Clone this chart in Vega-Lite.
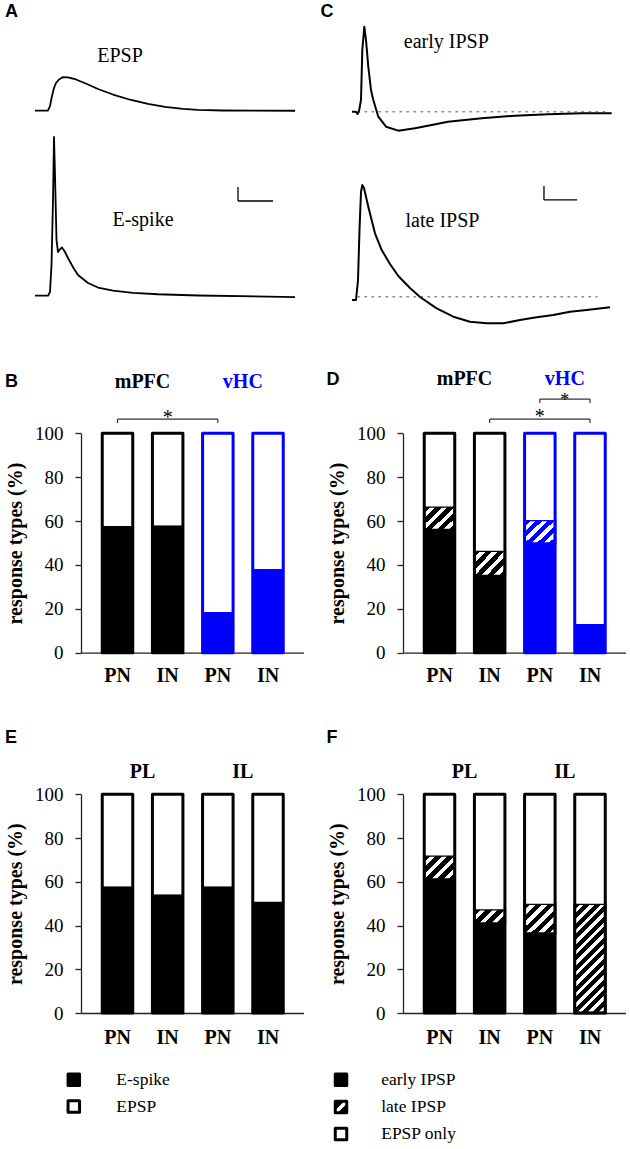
{
"$schema": "https://vega.github.io/schema/vega-lite/v6.json",
"background": "white",
"padding": {"left": 4, "top": 0, "right": 0, "bottom": 0},
"config": {"view": {"stroke": null}, "axis": {"grid": false}, "text": {"font": "Liberation Serif, Times New Roman, serif"}},
"columns": 2,
"spacing": {"row": 0, "column": 99},
"bounds": "flush",
"datasets": {
"traces": [
{"trace":"EPSP","t":0,"v":0},{"trace":"EPSP","t":7.43,"v":0.03},{"trace":"EPSP","t":8.57,"v":0.67},{"trace":"EPSP","t":9.71,"v":2.1},{"trace":"EPSP","t":10.86,"v":3.24},{"trace":"EPSP","t":12,"v":3.96},{"trace":"EPSP","t":13.71,"v":4.46},{"trace":"EPSP","t":16,"v":4.81},{"trace":"EPSP","t":18.86,"v":4.77},{"trace":"EPSP","t":23.43,"v":4.46},{"trace":"EPSP","t":30.29,"v":3.74},{"trace":"EPSP","t":36,"v":3.1},{"trace":"EPSP","t":44.57,"v":2.31},{"trace":"EPSP","t":54.86,"v":1.53},{"trace":"EPSP","t":64.57,"v":0.96},{"trace":"EPSP","t":74.29,"v":0.56},{"trace":"EPSP","t":84.57,"v":0.27},{"trace":"EPSP","t":93.14,"v":0.11},{"trace":"EPSP","t":107.43,"v":0.03},{"trace":"EPSP","t":148.57,"v":-0.01},
{"trace":"E-spike","t":0,"v":0},{"trace":"E-spike","t":7.43,"v":0},{"trace":"E-spike","t":8.57,"v":0.53},{"trace":"E-spike","t":9.43,"v":4.39},{"trace":"E-spike","t":10.29,"v":13.67},{"trace":"E-spike","t":10.86,"v":22.67},{"trace":"E-spike","t":11.43,"v":17.24},{"trace":"E-spike","t":12.29,"v":7.96},{"trace":"E-spike","t":13.14,"v":6.24},{"trace":"E-spike","t":14,"v":6.53},{"trace":"E-spike","t":15.43,"v":6.89},{"trace":"E-spike","t":17.14,"v":6.24},{"trace":"E-spike","t":19.14,"v":5.24},{"trace":"E-spike","t":22,"v":3.96},{"trace":"E-spike","t":24.57,"v":2.96},{"trace":"E-spike","t":30.29,"v":1.81},{"trace":"E-spike","t":36,"v":1.17},{"trace":"E-spike","t":44.57,"v":0.74},{"trace":"E-spike","t":56,"v":0.41},{"trace":"E-spike","t":70.29,"v":0.21},{"trace":"E-spike","t":93.14,"v":0.03},{"trace":"E-spike","t":148.57,"v":-0.19},
{"trace":"early IPSP","t":0,"v":0},{"trace":"early IPSP","t":2.29,"v":0},{"trace":"early IPSP","t":3.14,"v":-0.33},{"trace":"early IPSP","t":4,"v":0.1},{"trace":"early IPSP","t":5.14,"v":1.67},{"trace":"early IPSP","t":5.89,"v":8.81},{"trace":"early IPSP","t":7.03,"v":12.14},{"trace":"early IPSP","t":8,"v":10.24},{"trace":"early IPSP","t":9.31,"v":6.43},{"trace":"early IPSP","t":10.86,"v":3.1},{"trace":"early IPSP","t":12.17,"v":1.67},{"trace":"early IPSP","t":15.03,"v":-0.71},{"trace":"early IPSP","t":19.43,"v":-2.14},{"trace":"early IPSP","t":26.46,"v":-2.71},{"trace":"early IPSP","t":36,"v":-2.37},{"trace":"early IPSP","t":45.54,"v":-1.9},{"trace":"early IPSP","t":54.86,"v":-1.43},{"trace":"early IPSP","t":74.11,"v":-0.94},{"trace":"early IPSP","t":93.14,"v":-0.57},{"trace":"early IPSP","t":112.17,"v":-0.37},{"trace":"early IPSP","t":131.26,"v":-0.23},{"trace":"early IPSP","t":148.4,"v":-0.23},
{"trace":"late IPSP","t":0,"v":0},{"trace":"late IPSP","t":2.29,"v":0},{"trace":"late IPSP","t":3.43,"v":2.86},{"trace":"late IPSP","t":4.29,"v":10},{"trace":"late IPSP","t":5.14,"v":15.43},{"trace":"late IPSP","t":5.89,"v":16.43},{"trace":"late IPSP","t":6.86,"v":16.0},{"trace":"late IPSP","t":9.31,"v":13.33},{"trace":"late IPSP","t":13.14,"v":9.53},{"trace":"late IPSP","t":16.97,"v":7.14},{"trace":"late IPSP","t":21.71,"v":5.14},{"trace":"late IPSP","t":26.46,"v":3.43},{"trace":"late IPSP","t":33.14,"v":1.71},{"trace":"late IPSP","t":38.86,"v":0.43},{"trace":"late IPSP","t":48.4,"v":-1.19},{"trace":"late IPSP","t":57.89,"v":-2.39},{"trace":"late IPSP","t":67.43,"v":-3.1},{"trace":"late IPSP","t":76.97,"v":-3.33},{"trace":"late IPSP","t":86.46,"v":-3.33},{"trace":"late IPSP","t":96,"v":-2.86},{"trace":"late IPSP","t":105.54,"v":-2.47},{"trace":"late IPSP","t":115.03,"v":-2.14},{"trace":"late IPSP","t":124.57,"v":-1.67},{"trace":"late IPSP","t":134.11,"v":-1.43},{"trace":"late IPSP","t":147.43,"v":-1.04}
],
"B": [
{"cell":"mPFC PN","region":"mPFC","type":"E-spike","pct":57.7},{"cell":"mPFC PN","region":"mPFC","type":"EPSP","pct":42.3},
{"cell":"mPFC IN","region":"mPFC","type":"E-spike","pct":58.1},{"cell":"mPFC IN","region":"mPFC","type":"EPSP","pct":41.9},
{"cell":"vHC PN","region":"vHC","type":"E-spike","pct":18.5},{"cell":"vHC PN","region":"vHC","type":"EPSP","pct":81.5},
{"cell":"vHC IN","region":"vHC","type":"E-spike","pct":38.2},{"cell":"vHC IN","region":"vHC","type":"EPSP","pct":61.8}
],
"D": [
{"cell":"mPFC PN","region":"mPFC","type":"early IPSP","pct":55.9},{"cell":"mPFC PN","region":"mPFC","type":"late IPSP","pct":10.7},{"cell":"mPFC PN","region":"mPFC","type":"EPSP only","pct":33.4},
{"cell":"mPFC IN","region":"mPFC","type":"early IPSP","pct":35.0},{"cell":"mPFC IN","region":"mPFC","type":"late IPSP","pct":11.5},{"cell":"mPFC IN","region":"mPFC","type":"EPSP only","pct":53.5},
{"cell":"vHC PN","region":"vHC","type":"early IPSP","pct":49.8},{"cell":"vHC PN","region":"vHC","type":"late IPSP","pct":10.7},{"cell":"vHC PN","region":"vHC","type":"EPSP only","pct":39.5},
{"cell":"vHC IN","region":"vHC","type":"early IPSP","pct":13.1},{"cell":"vHC IN","region":"vHC","type":"late IPSP","pct":0},{"cell":"vHC IN","region":"vHC","type":"EPSP only","pct":86.9}
],
"E": [
{"cell":"PL PN","region":"PL","type":"E-spike","pct":57.9},{"cell":"PL PN","region":"PL","type":"EPSP","pct":42.1},
{"cell":"PL IN","region":"PL","type":"E-spike","pct":54.3},{"cell":"PL IN","region":"PL","type":"EPSP","pct":45.7},
{"cell":"IL PN","region":"IL","type":"E-spike","pct":57.9},{"cell":"IL PN","region":"IL","type":"EPSP","pct":42.1},
{"cell":"IL IN","region":"IL","type":"E-spike","pct":51.0},{"cell":"IL IN","region":"IL","type":"EPSP","pct":49.0}
],
"F": [
{"cell":"PL PN","region":"PL","type":"early IPSP","pct":61.0},{"cell":"PL PN","region":"PL","type":"late IPSP","pct":11.0},{"cell":"PL PN","region":"PL","type":"EPSP only","pct":28.0},
{"cell":"PL IN","region":"PL","type":"early IPSP","pct":40.9},{"cell":"PL IN","region":"PL","type":"late IPSP","pct":6.5},{"cell":"PL IN","region":"PL","type":"EPSP only","pct":52.6},
{"cell":"IL PN","region":"IL","type":"early IPSP","pct":36.3},{"cell":"IL PN","region":"IL","type":"late IPSP","pct":13.7},{"cell":"IL PN","region":"IL","type":"EPSP only","pct":50.0},
{"cell":"IL IN","region":"IL","type":"early IPSP","pct":0},{"cell":"IL IN","region":"IL","type":"late IPSP","pct":50.0},{"cell":"IL IN","region":"IL","type":"EPSP only","pct":50.0}
],
"groups": [
{"panel":"B","region":"mPFC"},{"panel":"B","region":"vHC"},
{"panel":"D","region":"mPFC"},{"panel":"D","region":"vHC"},
{"panel":"E","region":"PL"},{"panel":"E","region":"IL"},
{"panel":"F","region":"PL"},{"panel":"F","region":"IL"}
],
"legL": [{"item":"E-spike"},{"item":"EPSP"}],
"legR": [{"item":"early IPSP"},{"item":"late IPSP"},{"item":"EPSP only"}]
},
"concat": [
{
"width": 222.5, "height": 130,
"layer": [
{"data": {"name": "traces"}, "transform": [{"filter": "datum.trace==='EPSP'"}],
 "mark": {"type": "line", "color": "black", "strokeWidth": 1.8, "strokeJoin": "round"},
 "encoding": {"x": {"field": "t", "type": "quantitative", "scale": {"domain": [0, 150], "range": [-46, 216.5], "nice": false, "zero": false}, "axis": null},
  "y": {"field": "v", "type": "quantitative", "scale": {"domain": [0, 10], "range": [110.7, 40.7], "nice": false, "zero": false}, "axis": null}}},
{"data": {"values": [{}]}, "mark": {"type": "text", "text": "EPSP", "font": "Liberation Serif, Times New Roman, serif", "fontSize": 20, "baseline": "middle", "align": "center"},
 "encoding": {"x": {"datum": 48.6}, "y": {"datum": 7.87}}},
{"data": {"values": [{}]}, "mark": {"type": "text", "text": "A", "font": "Liberation Sans, Arial, sans-serif", "fontSize": 18, "fontWeight": "bold", "align": "left", "baseline": "middle"},
 "encoding": {"x": {"datum": -17.14}, "y": {"datum": 14.06}}}
]
},
{
"width": 222.5, "height": 130,
"layer": [
{"data": {"values": [{}]}, "mark": {"type": "rule", "color": "#888", "strokeWidth": 1.5, "strokeDash": [1.5, 5.5], "strokeCap": "round"},
 "encoding": {"x": {"datum": 3.43, "scale": {"domain": [0, 150], "range": [-51, 211.5], "nice": false, "zero": false}, "axis": null}, "x2": {"datum": 146.3},
  "y": {"datum": 0, "scale": {"domain": [0, 10], "range": [111.7, 41.7], "nice": false, "zero": false}, "axis": null}}},
{"data": {"name": "traces"}, "transform": [{"filter": "datum.trace==='early IPSP'"}],
 "mark": {"type": "line", "color": "black", "strokeWidth": 2, "strokeJoin": "round"},
 "encoding": {"x": {"field": "t", "type": "quantitative"}, "y": {"field": "v", "type": "quantitative"}}},
{"data": {"values": [{}]}, "mark": {"type": "text", "text": "early IPSP", "font": "Liberation Serif, Times New Roman, serif", "fontSize": 20, "baseline": "middle", "align": "center"},
 "encoding": {"x": {"datum": 53.9}, "y": {"datum": 9.91}}},
{"data": {"values": [{}]}, "mark": {"type": "text", "text": "C", "font": "Liberation Sans, Arial, sans-serif", "fontSize": 18, "fontWeight": "bold", "align": "left", "baseline": "middle"},
 "encoding": {"x": {"datum": -18.0}, "y": {"datum": 14.21}}}
]
},
{
"width": 222.5, "height": 210,
"layer": [
{"data": {"name": "traces"}, "transform": [{"filter": "datum.trace==='E-spike'"}],
 "mark": {"type": "line", "color": "black", "strokeWidth": 1.8, "strokeJoin": "round"},
 "encoding": {"x": {"field": "t", "type": "quantitative", "scale": {"domain": [0, 150], "range": [-46, 216.5], "nice": false, "zero": false}, "axis": null},
  "y": {"field": "v", "type": "quantitative", "scale": {"domain": [0, 10], "range": [165.7, 95.7], "nice": false, "zero": false}, "axis": null}}},
{"data": {"values": [{}]}, "mark": {"type": "text", "text": "E-spike", "font": "Liberation Serif, Times New Roman, serif", "fontSize": 20, "baseline": "middle", "align": "center"},
 "encoding": {"x": {"datum": 61.7}, "y": {"datum": 10.87}}},
{"data": {"values": [{}]}, "mark": {"type": "rule", "color": "black", "strokeWidth": 1.3},
 "encoding": {"x": {"datum": 116}, "y": {"datum": 13.53}, "y2": {"datum": 15.53}}},
{"data": {"values": [{}]}, "mark": {"type": "rule", "color": "black", "strokeWidth": 1.3},
 "encoding": {"x": {"datum": 116}, "x2": {"datum": 136}, "y": {"datum": 13.53}}}
]
},
{
"width": 222.5, "height": 210,
"layer": [
{"data": {"values": [{}]}, "mark": {"type": "rule", "color": "#888", "strokeWidth": 1.5, "strokeDash": [1.5, 5.5], "strokeCap": "round"},
 "encoding": {"x": {"datum": 3.43, "scale": {"domain": [0, 150], "range": [-51, 211.5], "nice": false, "zero": false}, "axis": null}, "x2": {"datum": 140},
  "y": {"datum": 0.47, "scale": {"domain": [0, 10], "range": [170, 100], "nice": false, "zero": false}, "axis": null}}},
{"data": {"name": "traces"}, "transform": [{"filter": "datum.trace==='late IPSP'"}],
 "mark": {"type": "line", "color": "black", "strokeWidth": 2, "strokeJoin": "round"},
 "encoding": {"x": {"field": "t", "type": "quantitative"}, "y": {"field": "v", "type": "quantitative"}}},
{"data": {"values": [{}]}, "mark": {"type": "text", "text": "late IPSP", "font": "Liberation Serif, Times New Roman, serif", "fontSize": 20, "baseline": "middle", "align": "center"},
 "encoding": {"x": {"datum": 51.7}, "y": {"datum": 11.34}}},
{"data": {"values": [{}]}, "mark": {"type": "rule", "color": "black", "strokeWidth": 1.3},
 "encoding": {"x": {"datum": 109.7}, "y": {"datum": 14.29}, "y2": {"datum": 16.29}}},
{"data": {"values": [{}]}, "mark": {"type": "rule", "color": "black", "strokeWidth": 1.3},
 "encoding": {"x": {"datum": 109.7}, "x2": {"datum": 128.7}, "y": {"datum": 14.29}}}
]
},
{
"width": 222.5, "height": 312.7,
"resolve": {"scale": {"x": "independent"}},
"layer": [
{"layer": [
 {"data": {"name": "B"},
  "transform": [{"calculate": "indexof(['E-spike','EPSP'], datum.type)", "as": "ord"}],
  "mark": {"type": "bar"},
  "encoding": {
   "x": {"field": "cell", "type": "nominal", "scale": {"type": "band", "domain": ["mPFC PN","mPFC IN","vHC PN","vHC IN"], "paddingInner": 0.392, "paddingOuter": 0.4135, "align": 0.512},
     "axis": {"title": null, "labelExpr": "split(datum.label, ' ')[1]", "labelAngle": 0, "ticks": false, "tickSize": 0, "labelPadding": 13, "labelFont": "Liberation Serif, Times New Roman, serif", "labelFontSize": 20, "labelFontWeight": "bold", "labelColor": "black", "domainColor": "#222", "domainWidth": 1.3}},
   "y": {"field": "pct", "type": "quantitative", "stack": "zero", "scale": {"domain": [0, 100], "range": [312.7, 93.3], "nice": false},
     "axis": {"title": "response types (%)", "values": [0,20,40,60,80,100], "tickSize": 6, "tickWidth": 1.3, "tickColor": "#222", "domainColor": "#222", "domainWidth": 1.3, "labelPadding": 12, "labelFont": "Liberation Serif, Times New Roman, serif", "labelFontSize": 19, "labelColor": "black", "titleFont": "Liberation Serif, Times New Roman, serif", "titleFontSize": 20, "titleFontWeight": "bold", "titleColor": "black", "titlePadding": 9}},
   "order": {"field": "ord", "type": "quantitative"},
   "detail": {"field": "type"},
   "fill": {"condition": [{"test": "datum.type==='EPSP'", "value": "white"}, {"test": "datum.region==='vHC'", "value": "#0000ff"}], "value": "black"}
  }},
 {"data": {"name": "B"},
  "transform": [{"aggregate": [{"op": "sum", "field": "pct", "as": "total"}], "groupby": ["cell", "region"]}],
  "mark": {"type": "bar", "filled": false, "strokeWidth": 3, "strokeJoin": "round"},
  "encoding": {"x": {"field": "cell", "type": "nominal"}, "y": {"field": "total", "type": "quantitative", "stack": null},
   "stroke": {"condition": {"test": "datum.region==='vHC'", "value": "#0000ff"}, "value": "black"}}},
 {"data": {"values": [{}]}, "mark": {"type": "rule", "color": "#333", "strokeWidth": 1.2},
  "encoding": {"x": {"datum": "mPFC PN"}, "x2": {"datum": "vHC PN"}, "y": {"datum": 106.5}}},
 {"data": {"values": [{"cell": "mPFC PN"}, {"cell": "vHC PN"}]}, "mark": {"type": "rule", "color": "#333", "strokeWidth": 1.2},
  "encoding": {"x": {"field": "cell", "type": "nominal"}, "y": {"datum": 104.7}, "y2": {"datum": 106.5}}},
 {"data": {"values": [{}]}, "mark": {"type": "text", "text": "*", "font": "Liberation Serif, Times New Roman, serif", "fontSize": 20, "baseline": "alphabetic", "align": "center"},
  "encoding": {"x": {"datum": "mPFC IN"}, "y": {"datum": 104.3}}}
]},
{"layer": [
 {"data": {"name": "groups"}, "transform": [{"filter": "datum.panel==='B'"}],
  "mark": {"type": "text", "font": "Liberation Serif, Times New Roman, serif", "fontSize": 20, "fontWeight": "bold", "baseline": "middle", "align": "center"},
  "encoding": {"x": {"field": "region", "type": "nominal", "scale": {"type": "band", "domain": ["mPFC","vHC"], "paddingInner": 0, "paddingOuter": 0.1088, "align": 0.519}, "axis": null},
   "y": {"datum": 123.3}, "text": {"field": "region"},
   "color": {"condition": {"test": "datum.region==='vHC'", "value": "#0000ff"}, "value": "black"}}},
 {"data": {"values": [{}]}, "mark": {"type": "text", "text": "B", "font": "Liberation Sans, Arial, sans-serif", "fontSize": 18, "fontWeight": "bold", "align": "left", "baseline": "middle", "dx": -137.5},
  "encoding": {"x": {"datum": "mPFC"}, "y": {"datum": 123.2}}}
]}
]
},
{
"width": 222.5, "height": 312.7,
"resolve": {"scale": {"x": "independent"}},
"layer": [
{"layer": [
 {"data": {"name": "D"},
  "transform": [{"calculate": "indexof(['early IPSP','late IPSP','EPSP only'], datum.type)", "as": "ord"}],
  "mark": {"type": "bar", "strokeWidth": 2.5},
  "encoding": {
   "x": {"field": "cell", "type": "nominal", "scale": {"type": "band", "domain": ["mPFC PN","mPFC IN","vHC PN","vHC IN"], "paddingInner": 0.392, "paddingOuter": 0.4135, "align": 0.512},
     "axis": {"title": null, "labelExpr": "split(datum.label, ' ')[1]", "labelAngle": 0, "ticks": false, "tickSize": 0, "labelPadding": 13, "labelFont": "Liberation Serif, Times New Roman, serif", "labelFontSize": 20, "labelFontWeight": "bold", "labelColor": "black", "domainColor": "#222", "domainWidth": 1.3}},
   "y": {"field": "pct", "type": "quantitative", "stack": "zero", "scale": {"domain": [0, 100], "range": [312.7, 93.3], "nice": false},
     "axis": {"title": "response types (%)", "values": [0,20,40,60,80,100], "tickSize": 6, "tickWidth": 1.3, "tickColor": "#222", "domainColor": "#222", "domainWidth": 1.3, "labelPadding": 12, "labelFont": "Liberation Serif, Times New Roman, serif", "labelFontSize": 19, "labelColor": "black", "titleFont": "Liberation Serif, Times New Roman, serif", "titleFontSize": 20, "titleFontWeight": "bold", "titleColor": "black", "titlePadding": 9}},
   "order": {"field": "ord", "type": "quantitative"},
   "detail": {"field": "type"},
   "fill": {"condition": [
     {"test": "datum.type==='late IPSP' && datum.region==='vHC'", "value": {"gradient": "linear", "x1": 0, "y1": 0, "x2": 1.1, "y2": 0.87, "stops": [{"offset":0,"color":"#0000ff"},{"offset":0.121,"color":"#0000ff"},{"offset":0.121,"color":"white"},{"offset":0.22,"color":"white"},{"offset":0.22,"color":"#0000ff"},{"offset":0.341,"color":"#0000ff"},{"offset":0.341,"color":"white"},{"offset":0.44,"color":"white"},{"offset":0.44,"color":"#0000ff"},{"offset":0.561,"color":"#0000ff"},{"offset":0.561,"color":"white"},{"offset":0.66,"color":"white"},{"offset":0.66,"color":"#0000ff"},{"offset":0.781,"color":"#0000ff"},{"offset":0.781,"color":"white"},{"offset":0.88,"color":"white"},{"offset":0.88,"color":"#0000ff"},{"offset":1,"color":"#0000ff"}]}},
     {"test": "datum.type==='late IPSP'", "value": {"gradient": "linear", "x1": 0, "y1": 0, "x2": 1.1, "y2": 0.87, "stops": [{"offset":0,"color":"black"},{"offset":0.121,"color":"black"},{"offset":0.121,"color":"white"},{"offset":0.22,"color":"white"},{"offset":0.22,"color":"black"},{"offset":0.341,"color":"black"},{"offset":0.341,"color":"white"},{"offset":0.44,"color":"white"},{"offset":0.44,"color":"black"},{"offset":0.561,"color":"black"},{"offset":0.561,"color":"white"},{"offset":0.66,"color":"white"},{"offset":0.66,"color":"black"},{"offset":0.781,"color":"black"},{"offset":0.781,"color":"white"},{"offset":0.88,"color":"white"},{"offset":0.88,"color":"black"},{"offset":1,"color":"black"}]}},
     {"test": "datum.type==='EPSP only'", "value": "white"},
     {"test": "datum.region==='vHC'", "value": "#0000ff"}], "value": "black"},
   "stroke": {"condition": [
     {"test": "datum.type==='late IPSP' && datum.pct>0 && datum.region==='vHC'", "value": "#0000ff"},
     {"test": "datum.type==='late IPSP' && datum.pct>0", "value": "black"}], "value": null}
  }},
 {"data": {"name": "D"},
  "transform": [{"aggregate": [{"op": "sum", "field": "pct", "as": "total"}], "groupby": ["cell", "region"]}],
  "mark": {"type": "bar", "filled": false, "strokeWidth": 3, "strokeJoin": "round"},
  "encoding": {"x": {"field": "cell", "type": "nominal"}, "y": {"field": "total", "type": "quantitative", "stack": null},
   "stroke": {"condition": {"test": "datum.region==='vHC'", "value": "#0000ff"}, "value": "black"}}},
 {"data": {"values": [{}]}, "mark": {"type": "rule", "color": "#333", "strokeWidth": 1.2},
  "encoding": {"x": {"datum": "vHC PN"}, "x2": {"datum": "vHC IN"}, "y": {"datum": 115.6}}},
 {"data": {"values": [{"cell": "vHC PN"}, {"cell": "vHC IN"}]}, "mark": {"type": "rule", "color": "#333", "strokeWidth": 1.2},
  "encoding": {"x": {"field": "cell", "type": "nominal"}, "y": {"datum": 113.8}, "y2": {"datum": 115.6}}},
 {"data": {"values": [{}]}, "mark": {"type": "rule", "color": "#333", "strokeWidth": 1.2},
  "encoding": {"x": {"datum": "mPFC IN"}, "x2": {"datum": "vHC IN"}, "y": {"datum": 106.5}}},
 {"data": {"values": [{"cell": "mPFC IN"}, {"cell": "vHC IN"}]}, "mark": {"type": "rule", "color": "#333", "strokeWidth": 1.2},
  "encoding": {"x": {"field": "cell", "type": "nominal"}, "y": {"datum": 104.7}, "y2": {"datum": 106.5}}},
 {"data": {"values": [{}]}, "mark": {"type": "text", "text": "*", "font": "Liberation Serif, Times New Roman, serif", "fontSize": 20, "baseline": "alphabetic", "align": "center"},
  "encoding": {"x": {"datum": "vHC PN"}, "y": {"datum": 104.5}}}
]},
{"layer": [
 {"data": {"name": "groups"}, "transform": [{"filter": "datum.panel==='D'"}],
  "mark": {"type": "text", "font": "Liberation Serif, Times New Roman, serif", "fontSize": 20, "fontWeight": "bold", "baseline": "middle", "align": "center"},
  "encoding": {"x": {"field": "region", "type": "nominal", "scale": {"type": "band", "domain": ["mPFC","vHC"], "paddingInner": 0, "paddingOuter": 0.1088, "align": 0.519}, "axis": null},
   "y": {"datum": 124.7}, "text": {"field": "region"},
   "color": {"condition": {"test": "datum.region==='vHC'", "value": "#0000ff"}, "value": "black"}}},
 {"data": {"values": [{}]}, "mark": {"type": "text", "text": "*", "font": "Liberation Serif, Times New Roman, serif", "fontSize": 18, "baseline": "alphabetic", "align": "center"},
  "encoding": {"x": {"datum": "vHC"}, "y": {"datum": 112.3}}},
 {"data": {"values": [{}]}, "mark": {"type": "text", "text": "D", "font": "Liberation Sans, Arial, sans-serif", "fontSize": 18, "fontWeight": "bold", "align": "left", "baseline": "middle", "dx": -138},
  "encoding": {"x": {"datum": "mPFC"}, "y": {"datum": 124.1}}}
]}
]
},
{
"width": 222.5, "height": 360,
"resolve": {"scale": {"x": "independent"}},
"layer": [
{"layer": [
 {"data": {"name": "E"},
  "transform": [{"calculate": "indexof(['E-spike','EPSP'], datum.type)", "as": "ord"}],
  "mark": {"type": "bar"},
  "encoding": {
   "x": {"field": "cell", "type": "nominal", "scale": {"type": "band", "domain": ["PL PN","PL IN","IL PN","IL IN"], "paddingInner": 0.392, "paddingOuter": 0.4135, "align": 0.512},
     "axis": {"title": null, "labelExpr": "split(datum.label, ' ')[1]", "labelAngle": 0, "ticks": false, "tickSize": 0, "labelPadding": 14, "labelFont": "Liberation Serif, Times New Roman, serif", "labelFontSize": 20, "labelFontWeight": "bold", "labelColor": "black", "domainColor": "#222", "domainWidth": 1.3}},
   "y": {"field": "pct", "type": "quantitative", "stack": "zero", "scale": {"domain": [0, 100], "range": [360, 141.3], "nice": false},
     "axis": {"title": "response types (%)", "values": [0,20,40,60,80,100], "tickSize": 6, "tickWidth": 1.3, "tickColor": "#222", "domainColor": "#222", "domainWidth": 1.3, "labelPadding": 12, "labelFont": "Liberation Serif, Times New Roman, serif", "labelFontSize": 19, "labelColor": "black", "titleFont": "Liberation Serif, Times New Roman, serif", "titleFontSize": 20, "titleFontWeight": "bold", "titleColor": "black", "titlePadding": 9}},
   "order": {"field": "ord", "type": "quantitative"},
   "detail": {"field": "type"},
   "fill": {"condition": [{"test": "datum.type==='EPSP'", "value": "white"}], "value": "black"}
  }},
 {"data": {"name": "E"},
  "transform": [{"aggregate": [{"op": "sum", "field": "pct", "as": "total"}], "groupby": ["cell", "region"]}],
  "mark": {"type": "bar", "filled": false, "strokeWidth": 3, "strokeJoin": "round", "stroke": "black"},
  "encoding": {"x": {"field": "cell", "type": "nominal"}, "y": {"field": "total", "type": "quantitative", "stack": null}}}
]},
{"layer": [
 {"data": {"name": "groups"}, "transform": [{"filter": "datum.panel==='E'"}],
  "mark": {"type": "text", "font": "Liberation Serif, Times New Roman, serif", "fontSize": 20, "fontWeight": "bold", "baseline": "middle", "align": "center", "color": "black"},
  "encoding": {"x": {"field": "region", "type": "nominal", "scale": {"type": "band", "domain": ["PL","IL"], "paddingInner": 0, "paddingOuter": 0.1088, "align": 0.519}, "axis": null},
   "y": {"datum": 110.2}, "text": {"field": "region"}}},
 {"data": {"values": [{}]}, "mark": {"type": "text", "text": "E", "font": "Liberation Sans, Arial, sans-serif", "fontSize": 18, "fontWeight": "bold", "align": "left", "baseline": "middle", "dx": -137.5},
  "encoding": {"x": {"datum": "PL"}, "y": {"datum": 125.8}}}
]}
]
},
{
"width": 222.5, "height": 360,
"resolve": {"scale": {"x": "independent"}},
"layer": [
{"layer": [
 {"data": {"name": "F"},
  "transform": [{"calculate": "indexof(['early IPSP','late IPSP','EPSP only'], datum.type)", "as": "ord"}],
  "mark": {"type": "bar", "strokeWidth": 2.5},
  "encoding": {
   "x": {"field": "cell", "type": "nominal", "scale": {"type": "band", "domain": ["PL PN","PL IN","IL PN","IL IN"], "paddingInner": 0.392, "paddingOuter": 0.4135, "align": 0.512},
     "axis": {"title": null, "labelExpr": "split(datum.label, ' ')[1]", "labelAngle": 0, "ticks": false, "tickSize": 0, "labelPadding": 14, "labelFont": "Liberation Serif, Times New Roman, serif", "labelFontSize": 20, "labelFontWeight": "bold", "labelColor": "black", "domainColor": "#222", "domainWidth": 1.3}},
   "y": {"field": "pct", "type": "quantitative", "stack": "zero", "scale": {"domain": [0, 100], "range": [360, 141.3], "nice": false},
     "axis": {"title": "response types (%)", "values": [0,20,40,60,80,100], "tickSize": 6, "tickWidth": 1.3, "tickColor": "#222", "domainColor": "#222", "domainWidth": 1.3, "labelPadding": 12, "labelFont": "Liberation Serif, Times New Roman, serif", "labelFontSize": 19, "labelColor": "black", "titleFont": "Liberation Serif, Times New Roman, serif", "titleFontSize": 20, "titleFontWeight": "bold", "titleColor": "black", "titlePadding": 9}},
   "order": {"field": "ord", "type": "quantitative"},
   "detail": {"field": "type"},
   "fill": {"condition": [
     {"test": "datum.type==='late IPSP' && datum.cell==='PL IN'", "value": {"gradient": "linear", "x1": 0, "y1": 0, "x2": 1.2, "y2": 0.56, "stops": [{"offset":0,"color":"black"},{"offset":0.148,"color":"black"},{"offset":0.148,"color":"white"},{"offset":0.2685,"color":"white"},{"offset":0.2685,"color":"black"},{"offset":0.4165,"color":"black"},{"offset":0.4165,"color":"white"},{"offset":0.537,"color":"white"},{"offset":0.537,"color":"black"},{"offset":0.685,"color":"black"},{"offset":0.685,"color":"white"},{"offset":0.8055,"color":"white"},{"offset":0.8055,"color":"black"},{"offset":0.9535,"color":"black"},{"offset":0.9535,"color":"white"},{"offset":1,"color":"white"}]}},
     {"test": "datum.type==='late IPSP' && datum.cell==='IL PN'", "value": {"gradient": "linear", "x1": 0, "y1": 0, "x2": 1, "y2": 1, "stops": [{"offset":0,"color":"black"},{"offset":0.109,"color":"black"},{"offset":0.109,"color":"white"},{"offset":0.198,"color":"white"},{"offset":0.198,"color":"black"},{"offset":0.307,"color":"black"},{"offset":0.307,"color":"white"},{"offset":0.396,"color":"white"},{"offset":0.396,"color":"black"},{"offset":0.505,"color":"black"},{"offset":0.505,"color":"white"},{"offset":0.594,"color":"white"},{"offset":0.594,"color":"black"},{"offset":0.703,"color":"black"},{"offset":0.703,"color":"white"},{"offset":0.792,"color":"white"},{"offset":0.792,"color":"black"},{"offset":0.901,"color":"black"},{"offset":0.901,"color":"white"},{"offset":0.99,"color":"white"},{"offset":0.99,"color":"black"},{"offset":1,"color":"black"}]}},
     {"test": "datum.type==='late IPSP' && datum.cell==='IL IN'", "value": {"gradient": "linear", "x1": 0, "y1": 0, "x2": 0.331, "y2": 1.187, "stops": [{"offset":0,"color":"black"},{"offset":0.0413,"color":"black"},{"offset":0.0413,"color":"white"},{"offset":0.075,"color":"white"},{"offset":0.075,"color":"black"},{"offset":0.1163,"color":"black"},{"offset":0.1163,"color":"white"},{"offset":0.15,"color":"white"},{"offset":0.15,"color":"black"},{"offset":0.1913,"color":"black"},{"offset":0.1913,"color":"white"},{"offset":0.225,"color":"white"},{"offset":0.225,"color":"black"},{"offset":0.2663,"color":"black"},{"offset":0.2663,"color":"white"},{"offset":0.3,"color":"white"},{"offset":0.3,"color":"black"},{"offset":0.3413,"color":"black"},{"offset":0.3413,"color":"white"},{"offset":0.375,"color":"white"},{"offset":0.375,"color":"black"},{"offset":0.4163,"color":"black"},{"offset":0.4163,"color":"white"},{"offset":0.45,"color":"white"},{"offset":0.45,"color":"black"},{"offset":0.4913,"color":"black"},{"offset":0.4913,"color":"white"},{"offset":0.525,"color":"white"},{"offset":0.525,"color":"black"},{"offset":0.5663,"color":"black"},{"offset":0.5663,"color":"white"},{"offset":0.6,"color":"white"},{"offset":0.6,"color":"black"},{"offset":0.6413,"color":"black"},{"offset":0.6413,"color":"white"},{"offset":0.675,"color":"white"},{"offset":0.675,"color":"black"},{"offset":0.7163,"color":"black"},{"offset":0.7163,"color":"white"},{"offset":0.75,"color":"white"},{"offset":0.75,"color":"black"},{"offset":0.7913,"color":"black"},{"offset":0.7913,"color":"white"},{"offset":0.825,"color":"white"},{"offset":0.825,"color":"black"},{"offset":0.8663,"color":"black"},{"offset":0.8663,"color":"white"},{"offset":0.9,"color":"white"},{"offset":0.9,"color":"black"},{"offset":0.9413,"color":"black"},{"offset":0.9413,"color":"white"},{"offset":0.975,"color":"white"},{"offset":0.975,"color":"black"},{"offset":1,"color":"black"}]}},
     {"test": "datum.type==='late IPSP'", "value": {"gradient": "linear", "x1": 0, "y1": 0, "x2": 1.1, "y2": 0.87, "stops": [{"offset":0,"color":"black"},{"offset":0.121,"color":"black"},{"offset":0.121,"color":"white"},{"offset":0.22,"color":"white"},{"offset":0.22,"color":"black"},{"offset":0.341,"color":"black"},{"offset":0.341,"color":"white"},{"offset":0.44,"color":"white"},{"offset":0.44,"color":"black"},{"offset":0.561,"color":"black"},{"offset":0.561,"color":"white"},{"offset":0.66,"color":"white"},{"offset":0.66,"color":"black"},{"offset":0.781,"color":"black"},{"offset":0.781,"color":"white"},{"offset":0.88,"color":"white"},{"offset":0.88,"color":"black"},{"offset":1,"color":"black"}]}},
     {"test": "datum.type==='EPSP only'", "value": "white"}], "value": "black"},
   "stroke": {"condition": {"test": "datum.type==='late IPSP' && datum.pct>0", "value": "black"}, "value": null}
  }},
 {"data": {"name": "F"},
  "transform": [{"aggregate": [{"op": "sum", "field": "pct", "as": "total"}], "groupby": ["cell", "region"]}],
  "mark": {"type": "bar", "filled": false, "strokeWidth": 3, "strokeJoin": "round", "stroke": "black"},
  "encoding": {"x": {"field": "cell", "type": "nominal"}, "y": {"field": "total", "type": "quantitative", "stack": null}}}
]},
{"layer": [
 {"data": {"name": "groups"}, "transform": [{"filter": "datum.panel==='F'"}],
  "mark": {"type": "text", "font": "Liberation Serif, Times New Roman, serif", "fontSize": 20, "fontWeight": "bold", "baseline": "middle", "align": "center", "color": "black"},
  "encoding": {"x": {"field": "region", "type": "nominal", "scale": {"type": "band", "domain": ["PL","IL"], "paddingInner": 0, "paddingOuter": 0.1088, "align": 0.519}, "axis": null},
   "y": {"datum": 110.2}, "text": {"field": "region"}}},
 {"data": {"values": [{}]}, "mark": {"type": "text", "text": "F", "font": "Liberation Sans, Arial, sans-serif", "fontSize": 18, "fontWeight": "bold", "align": "left", "baseline": "middle", "dx": -138},
  "encoding": {"x": {"datum": "PL"}, "y": {"datum": 125.8}}}
]}
]
},
{
"width": 222.5, "height": 136.3,
"data": {"name": "legL"},
"layer": [
 {"mark": {"type": "square", "size": 132, "strokeWidth": 3, "strokeJoin": "round", "stroke": "black", "opacity": 1},
  "encoding": {"x": {"datum": "symbol", "scale": {"type": "point", "domain": ["symbol","label"], "range": [-7.2, 35.3], "padding": 0}, "axis": null},
   "y": {"field": "item", "type": "nominal", "scale": {"type": "point", "domain": ["E-spike","EPSP"], "range": [66.8, 93.6], "padding": 0}, "axis": null},
   "fill": {"condition": {"test": "datum.item==='EPSP'", "value": "white"}, "value": "black"}}},
 {"mark": {"type": "text", "font": "Liberation Serif, Times New Roman, serif", "fontSize": 17.5, "align": "left", "baseline": "middle", "color": "black"},
  "encoding": {"x": {"datum": "label"}, "y": {"field": "item", "type": "nominal"}, "text": {"field": "item"}}}
]
},
{
"width": 222.5, "height": 136.3,
"data": {"name": "legR"},
"layer": [
 {"mark": {"type": "square", "size": 132, "strokeWidth": 3, "strokeJoin": "round", "stroke": "black", "opacity": 1},
  "encoding": {"x": {"datum": "symbol", "scale": {"type": "point", "domain": ["symbol","label"], "range": [-62, -21.8], "padding": 0}, "axis": null},
   "y": {"field": "item", "type": "nominal", "scale": {"type": "point", "domain": ["early IPSP","late IPSP","EPSP only"], "range": [66.8, 121.1], "padding": 0}, "axis": null},
   "fill": {"condition": [
     {"test": "datum.item==='EPSP only'", "value": "white"},
     {"test": "datum.item==='late IPSP'", "value": {"gradient": "linear", "x1": 0, "y1": 0, "x2": 1, "y2": 1, "stops": [{"offset":0,"color":"black"},{"offset":0.38,"color":"black"},{"offset":0.38,"color":"white"},{"offset":0.62,"color":"white"},{"offset":0.62,"color":"black"},{"offset":1,"color":"black"}]}}], "value": "black"}}},
 {"mark": {"type": "text", "font": "Liberation Serif, Times New Roman, serif", "fontSize": 17.5, "align": "left", "baseline": "middle", "color": "black"},
  "encoding": {"x": {"datum": "label"}, "y": {"field": "item", "type": "nominal"}, "text": {"field": "item"}}}
]
}
]
}
